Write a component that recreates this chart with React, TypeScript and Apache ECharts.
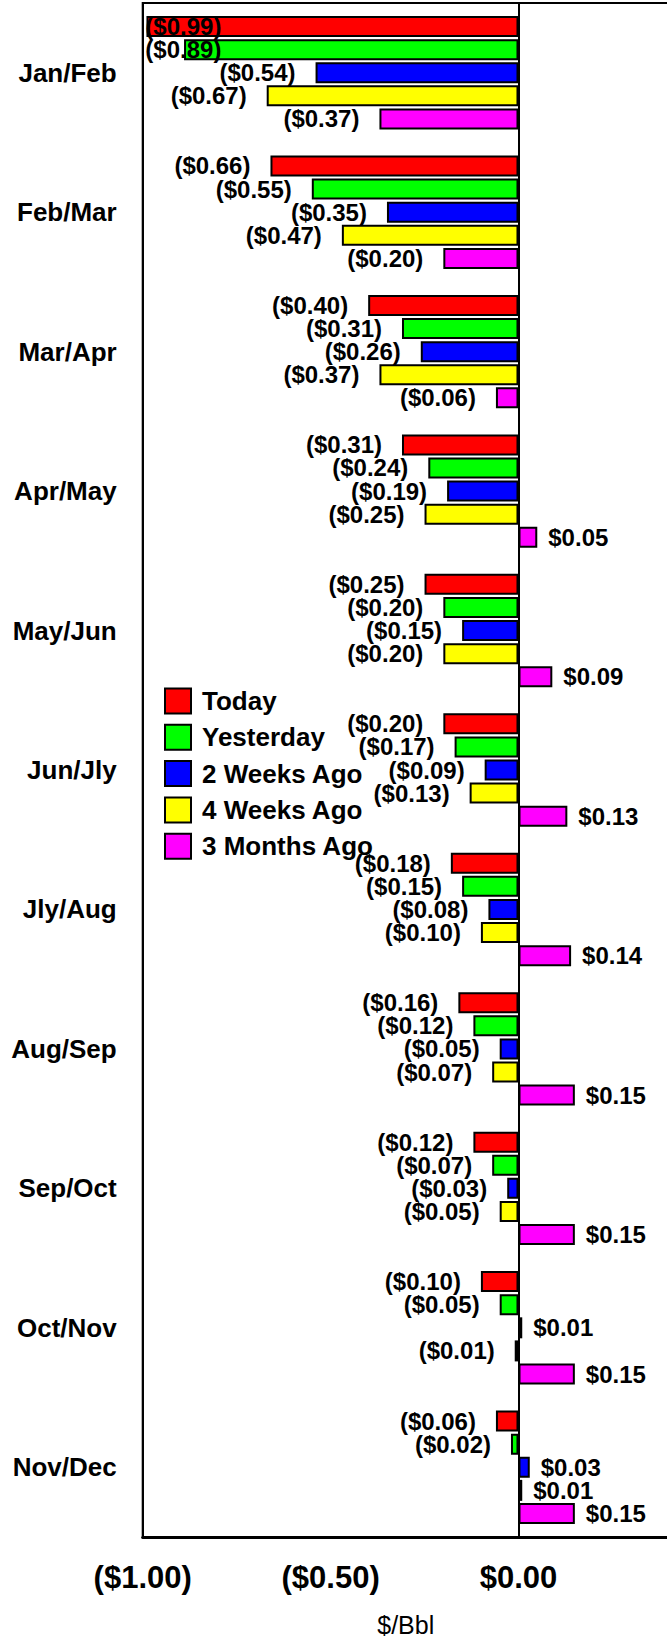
import React, { useEffect, useRef } from "react";
import * as echarts from "echarts";

const categories = [
  "Jan/Feb", "Feb/Mar", "Mar/Apr", "Apr/May", "May/Jun", "Jun/Jly",
  "Jly/Aug", "Aug/Sep", "Sep/Oct", "Oct/Nov", "Nov/Dec",
];
const seriesNames = ["Today", "Yesterday", "2 Weeks Ago", "4 Weeks Ago", "3 Months Ago"];
const today = [-0.99, -0.66, -0.40, -0.31, -0.25, -0.20, -0.18, -0.16, -0.12, -0.10, -0.06];
const yesterday = [-0.89, -0.55, -0.31, -0.24, -0.20, -0.17, -0.15, -0.12, -0.07, -0.05, -0.02];
const twoWeeksAgo = [-0.54, -0.35, -0.26, -0.19, -0.15, -0.09, -0.08, -0.05, -0.03, 0.01, 0.03];
const fourWeeksAgo = [-0.67, -0.47, -0.37, -0.25, -0.20, -0.13, -0.10, -0.07, -0.05, -0.01, 0.01];
const threeMonthsAgo = [-0.37, -0.20, -0.06, 0.05, 0.09, 0.13, 0.14, 0.15, 0.15, 0.15, 0.15];
const xTickValues = [-1, -0.5, 0];
const seriesColors = ["#FF0000", "#00FF00", "#0000FF", "#FFFF00", "#FF00FF"];

const FONT = '"Liberation Sans", Arial, sans-serif';
const PX_PER_UNIT = 375.8;

const fmt = (v: number) =>
  v < 0 ? `($${Math.abs(v).toFixed(2)})` : `$${v.toFixed(2)}`;

function labelFor(v: number) {
  if (v < -0.75) {
    return { position: "insideLeft", distance: (-0.993 - v) * PX_PER_UNIT };
  }
  if (v < 0) return { position: "left", distance: 20 };
  return { position: "right", distance: 11 };
}

export default function App() {
  const ref = useRef<HTMLDivElement>(null);
  useEffect(() => {
    if (!ref.current) return;
    const chart = echarts.init(ref.current, undefined, { renderer: "svg" });
    const all = [today, yesterday, twoWeeksAgo, fourWeeksAgo, threeMonthsAgo];
    const series: any[] = all.map((vals, i) => ({
      name: seriesNames[i],
      type: "bar",
      barWidth: 21,
      barGap: "10%",
      itemStyle: { color: seriesColors[i], borderColor: "#000", borderWidth: 2 },
      label: {
        show: true,
        color: "#000",
        fontFamily: FONT,
        fontWeight: "bold",
        fontSize: 24,
        formatter: (p: any) => fmt(p.value),
      },
      data: vals.map((v) => ({ value: v, label: labelFor(v) })),
      ...(i === 0
        ? {
            markLine: {
              silent: true,
              symbol: ["none", "none"],
              label: { show: false },
              lineStyle: { color: "#000", width: 2, type: "solid" },
              data: [{ xAxis: 0 }],
            },
          }
        : {}),
    }));
    chart.setOption({
      animation: false,
      backgroundColor: "#fff",
      grid: {
        left: 142.7,
        top: 3,
        right: 31.2,
        bottom: 101,
        show: true,
        borderColor: "#000",
        borderWidth: 2,
        backgroundColor: "transparent",
      },
      legend: {
        orient: "vertical",
        left: 159,
        top: 682.5,
        itemWidth: 26,
        itemHeight: 25,
        itemGap: 9.3,
        icon: "rect",
        data: seriesNames,
        textStyle: {
          color: "#000",
          fontFamily: FONT,
          fontWeight: "bold",
          fontSize: 26,
          padding: [0, 0, 0, 6],
        },
      },
      xAxis: {
        type: "value",
        min: -1,
        max: 0.4,
        interval: 0.5,
        name: "$/Bbl",
        nameLocation: "middle",
        nameGap: 75,
        nameTextStyle: { color: "#000", fontFamily: FONT, fontSize: 25 },
        axisLine: { show: true, onZero: false, lineStyle: { color: "#000", width: 3 } },
        axisTick: { show: false },
        splitLine: { show: false },
        axisLabel: {
          color: "#000",
          fontFamily: FONT,
          fontWeight: "bold",
          fontSize: 31,
          margin: 25,
          formatter: (v: number) =>
            xTickValues.some((t) => Math.abs(t - v) < 1e-9) ? fmt(v) : "",
        },
      },
      yAxis: {
        type: "category",
        inverse: true,
        data: categories,
        axisLine: { show: true, onZero: false, lineStyle: { color: "#000", width: 2 } },
        axisTick: { show: false },
        axisLabel: {
          color: "#000",
          fontFamily: FONT,
          fontWeight: "bold",
          fontSize: 26,
          margin: 26,
        },
      },
      series,
    });
    return () => chart.dispose();
  }, []);
  return (
    <div
      style={{
        position: "absolute",
        left: 0,
        top: 0,
        width: 667,
        height: 1642,
        overflow: "hidden",
        background: "#fff",
      }}
    >
      <div ref={ref} style={{ width: 700, height: 1642 }} />
    </div>
  );
}
